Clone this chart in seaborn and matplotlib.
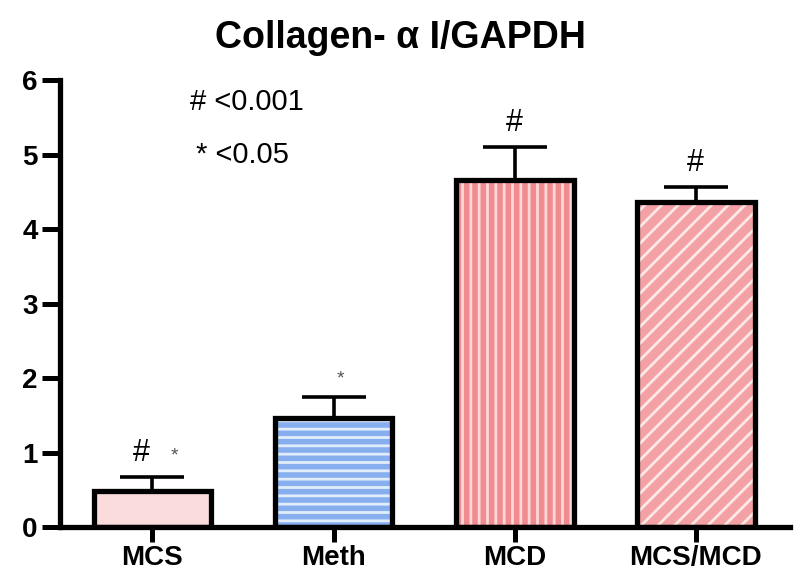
import matplotlib
matplotlib.use("Agg")
import matplotlib.pyplot as plt
from matplotlib.patches import Rectangle
import seaborn as sns
import pandas as pd

# === data ===
groups = ["MCS", "Meth", "MCD", "MCS/MCD"]
means = [0.48, 1.47, 4.66, 4.37]
sems = [0.19, 0.28, 0.44, 0.20]
fills = ["#fbdcdd", "#87aeee", "#f08b90", "#f3a1a4"]
stripes = ["#fbdcdd", "#e2edfc", "#fdd8d8", "#fde8e4"]
hatches = ["", "--", "||", "//"]
marks = ["#", "*", "#", "#"]
y_ticks = [0, 1, 2, 3, 4, 5, 6]

df = pd.DataFrame({"group": groups, "value": means})

sns.set_style("ticks")
plt.rcParams["font.family"] = ["Liberation Sans", "DejaVu Sans"]
plt.rcParams["hatch.linewidth"] = 2.0
plt.rcParams["text.color"] = "black"
plt.rcParams["axes.edgecolor"] = "black"
plt.rcParams["xtick.color"] = "black"
plt.rcParams["ytick.color"] = "black"
plt.rcParams["xtick.labelcolor"] = "black"
plt.rcParams["ytick.labelcolor"] = "black"

fig = plt.figure(figsize=(8, 5.85), dpi=100)
ax = fig.add_axes([0.075, 0.099, 0.9125, 0.764])

sns.barplot(data=df, x="group", y="value", hue="group", palette=fills,
            width=0.65, saturation=1, legend=False, ax=ax, errorbar=None)

# stripes first, then a heavy black outline on top
for patch, hc, h in zip(ax.patches, stripes, hatches):
    patch.set_hatch(h)
    patch.set_edgecolor(hc)
    patch.set_linewidth(0)
    ax.add_patch(Rectangle(patch.get_xy(), patch.get_width(), patch.get_height(),
                           fill=False, ec="black", lw=3.8, zorder=3))

# upward-only error bars
ax.errorbar(range(len(groups)), means, yerr=[[0] * len(groups), sems],
            fmt="none", ecolor="black", elinewidth=2.6, capsize=23, capthick=2.6, zorder=2)

# significance marks
for i, (m, s, mk) in enumerate(zip(means, sems, marks)):
    top = m + s + 0.12
    if i == 0:
        ax.text(i - 0.06, top, "#", ha="center", va="bottom", fontsize=22)
        ax.text(i + 0.12, top + 0.05, "*", ha="center", va="bottom", fontsize=14, color="#555555")
    elif mk == "*":
        ax.text(i + 0.04, top, "*", ha="center", va="bottom", fontsize=14, color="#555555")
    else:
        ax.text(i, top, "#", ha="center", va="bottom", fontsize=22)

ax.text(0.21, 5.70, "# <0.001", ha="left", va="center", fontsize=21)
ax.text(0.24, 4.99, "* <0.05", ha="left", va="center", fontsize=21)

ax.set_xlim(-0.51, 3.52)
ax.set_ylim(0, 6)
ax.set_yticks(y_ticks)
ax.set_xlabel("")
ax.set_ylabel("")
for side in ["top", "right"]:
    ax.spines[side].set_visible(False)
for side in ["left", "bottom"]:
    ax.spines[side].set_linewidth(3.8)
ax.tick_params(axis="y", length=13, width=3.6, pad=3, labelsize=20)
ax.tick_params(axis="x", length=11, width=3.6, pad=2, labelsize=20)
for lab in ax.get_xticklabels() + ax.get_yticklabels():
    lab.set_fontweight("bold")

fig.text(0.5, 1 - 38 / 585, "Collagen- α I/GAPDH", ha="center", va="center",
         fontsize=27, fontweight="bold")

fig.savefig("out.png", dpi=100)
